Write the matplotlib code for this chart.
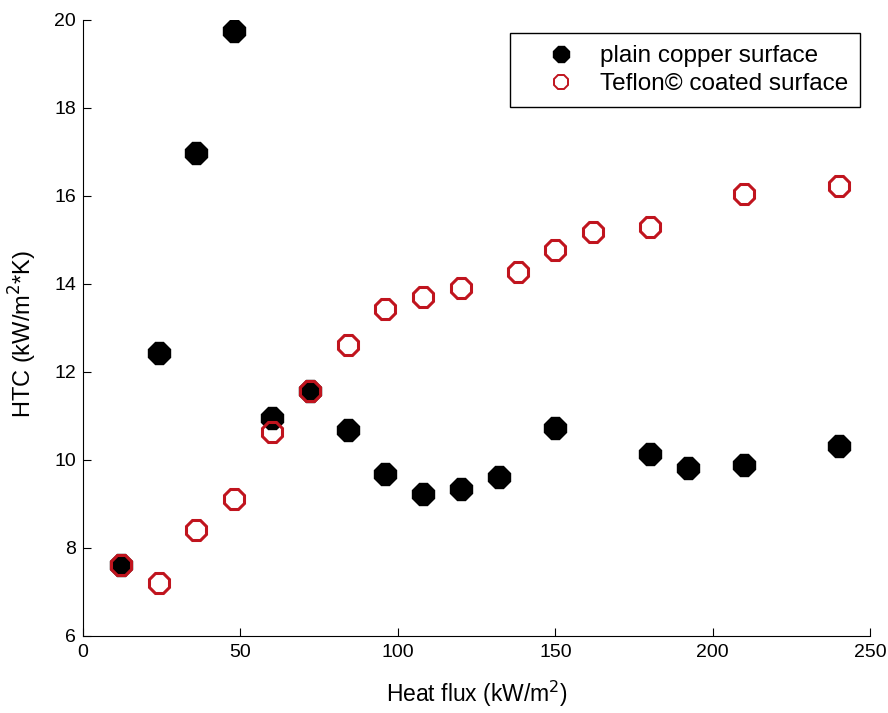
import numpy as np
import matplotlib.pyplot as plt
from matplotlib.lines import Line2D

plt.rcParams['font.family'] = ['Liberation Sans', 'DejaVu Sans']

# plain copper surface
q_cu = [12, 24, 36, 48, 60, 72, 84, 96, 108, 120, 132, 150, 180, 192, 210, 240]
htc_cu = [7.62, 12.43, 16.97, 19.75, 10.95, 11.57, 10.68, 9.68, 9.23, 9.34, 9.61, 10.73, 10.14, 9.82, 9.89, 10.32]

# Teflon coated surface
q_tf = [12, 24, 36, 48, 60, 72, 84, 96, 108, 120, 138, 150, 162, 180, 210, 240]
htc_tf = [7.62, 7.20, 8.41, 9.11, 10.64, 11.57, 12.61, 13.43, 13.70, 13.91, 14.27, 14.77, 15.18, 15.30, 16.05, 16.23]

red = '#c0141e'

fig = plt.figure(figsize=(8.88, 7.13), dpi=100)
ax = fig.add_axes([0.0935, 0.108, 0.8865, 0.864])

ax.plot(q_cu, htc_cu, linestyle='none', marker='8', ms=16.5,
        mfc='black', mec='black')
ax.plot(q_tf, htc_tf, linestyle='none', marker='8', ms=15,
        mfc='none', mec=red, mew=2.2)

ax.set_xlim(0, 250)
ax.set_ylim(6, 20)
ax.set_xticks(np.arange(0, 251, 50))
ax.set_yticks(np.arange(6, 21, 2))
ax.tick_params(direction='in', length=6, labelsize=14, top=False, right=False)
ax.tick_params(axis='x', pad=6)
ax.tick_params(axis='y', pad=5)
for s in ['top', 'right']:
    ax.spines[s].set_visible(False)

ax.set_xlabel('Heat flux (kW/m$^2$)', fontsize=16.5)
ax.set_ylabel('HTC (kW/m$^2$*K)', fontsize=17)
ax.xaxis.set_label_coords(0.5, -0.07)
ax.yaxis.set_label_coords(-0.056, 0.49)

handles = [
    Line2D([], [], linestyle='none', marker='8', ms=12, mfc='black', mec='black'),
    Line2D([], [], linestyle='none', marker='8', ms=11, mfc='none', mec=red, mew=1.4),
]
leg = ax.legend(handles, ['plain copper surface', 'Teflon\u00a9 coated surface'],
                loc='upper right', bbox_to_anchor=(0.987, 0.979), fontsize=17.5,
                fancybox=False, edgecolor='black', framealpha=1,
                handlelength=3.2, handletextpad=0.0, borderpad=0.5,
                labelspacing=0.25, borderaxespad=0)
leg.get_frame().set_linewidth(1.0)

fig.savefig('out.png', dpi=100)
